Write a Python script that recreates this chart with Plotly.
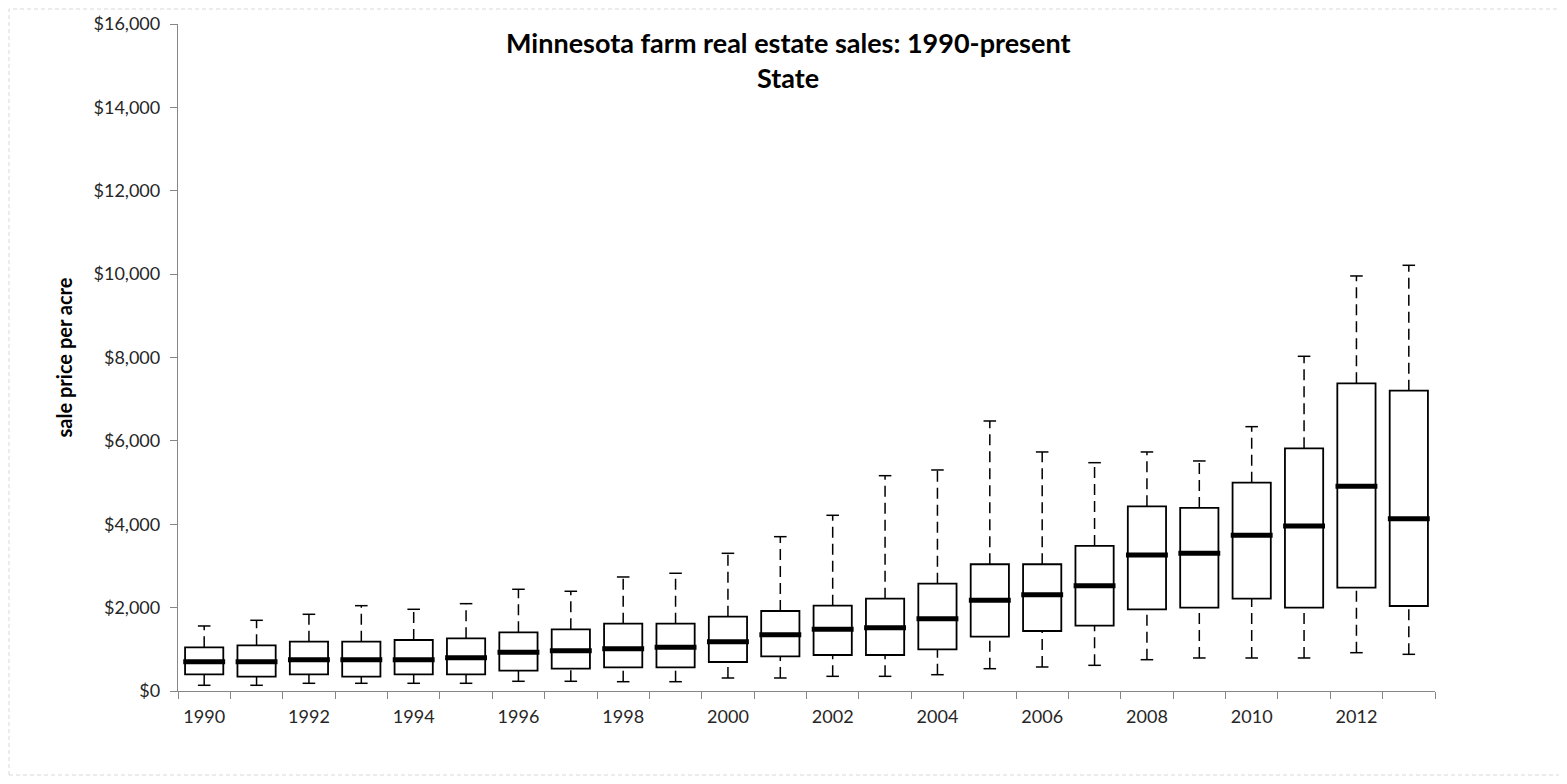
import plotly.graph_objects as go

years = list(range(1990, 2014))
lower = [137, 137, 185, 185, 185, 185, 233, 233, 223, 223, 312, 312,
         352, 352, 391, 535, 576, 616, 751, 792, 792, 792, 919, 880]
q1 = [400, 343, 400, 343, 400, 400, 487, 535, 569, 569, 696, 832,
      864, 864, 1000, 1303, 1439, 1567, 1960, 1999, 2215, 1999, 2478, 2039]
median = [703, 703, 751, 751, 751, 799, 928, 968, 1015, 1048, 1183, 1351,
          1480, 1519, 1735, 2176, 2310, 2526, 3263, 3303, 3735, 3958, 4910, 4134]
q3 = [1048, 1096, 1183, 1183, 1223, 1264, 1408, 1480, 1615, 1615, 1783, 1919,
      2047, 2215, 2574, 3040, 3040, 3479, 4431, 4391, 4998, 5822, 7381, 7205]
upper = [1560, 1696, 1840, 2047, 1960, 2095, 2440, 2392, 2735, 2824, 3303, 3702,
         4215, 5165, 5302, 6477, 5734, 5477, 5734, 5518, 6341, 8029, 9956, 10212]
tick_years = [1990, 1992, 1994, 1996, 1998, 2000, 2002, 2004, 2006, 2008, 2010, 2012]
y_ticks = [0, 2000, 4000, 6000, 8000, 10000, 12000, 14000, 16000]
y_tick_text = ["$0", "$2,000", "$4,000", "$6,000", "$8,000", "$10,000",
               "$12,000", "$14,000", "$16,000"]

FONT = "Lato"
BOX_W = 0.73
MED_HALF = 0.40
CAP_HALF = 0.12

# page body has an 8px margin; plot area in page px: x 178..1435, y 24..691
PAGE_OFF = 8
PL, PR, PT, PB = 178, 1435, 24, 691
FIG_W, FIG_H = 1567 - 2 * PAGE_OFF, 784 - 2 * PAGE_OFF


def px_x(p):
    return (p - PL) / (PR - PL)


def px_y(p):
    return (PB - p) / (PB - PT)


def segments(xc, ya, yb, half=0.0):
    xs, ys = [], []
    for x, a, b in zip(xc, ya, yb):
        if half:
            xs += [x - half, x + half, None]
            ys += [a, a, None]
        else:
            xs += [x, x, None]
            ys += [a, b, None]
    return xs, ys


fig = go.Figure()

# whiskers (dashed)
wx, wy = segments(years, q3, upper)
lx, ly = segments(years, lower, q1)
fig.add_trace(go.Scatter(x=wx + lx, y=wy + ly, mode="lines",
                         line=dict(color="black", width=1.5, dash="11px,6px"),
                         hoverinfo="skip", showlegend=False))
# caps
cx1, cy1 = segments(years, upper, upper, CAP_HALF)
cx2, cy2 = segments(years, lower, lower, CAP_HALF)
fig.add_trace(go.Scatter(x=cx1 + cx2, y=cy1 + cy2, mode="lines",
                         line=dict(color="black", width=1.5),
                         hoverinfo="skip", showlegend=False))
# boxes
fig.add_trace(go.Bar(x=years, y=[b - a for a, b in zip(q1, q3)], base=q1,
                     width=BOX_W,
                     marker=dict(color="white", line=dict(color="black", width=1.8)),
                     showlegend=False))
# medians
mx, my = segments(years, median, median, MED_HALF)
fig.add_trace(go.Scatter(x=mx, y=my, mode="lines",
                         line=dict(color="black", width=5),
                         hoverinfo="skip", showlegend=False))

fig.update_layout(
    width=FIG_W, height=FIG_H,
    margin=dict(l=PL - PAGE_OFF, r=FIG_W - (PR - PAGE_OFF), t=PT - PAGE_OFF,
                b=FIG_H - (PB - PAGE_OFF), autoexpand=False),
    paper_bgcolor="white", plot_bgcolor="white",
    font=dict(family=FONT, size=18, color="#262626"),
    barmode="overlay",
    xaxis=dict(range=[1989.5, 2013.5], tickmode="array", tickvals=tick_years,
               ticktext=[str(y) for y in tick_years], ticks="",
               ticklabelstandoff=9, automargin=False,
               showgrid=False, zeroline=False, showline=True,
               linecolor="#868686", linewidth=1.3,
               tickfont=dict(family=FONT, size=18, color="#262626"),
               minor=dict(ticks="outside", tick0=1989.5, dtick=1, ticklen=7,
                          tickcolor="#868686", tickwidth=1.3, showgrid=False)),
    yaxis=dict(range=[0, 16000], tickmode="array", tickvals=y_ticks,
               ticktext=y_tick_text, ticks="outside", ticklen=7,
               ticklabelstandoff=6, automargin=False,
               tickcolor="#868686", tickwidth=1.3,
               showgrid=False, zeroline=False, showline=True,
               linecolor="#868686", linewidth=1.3,
               tickfont=dict(family=FONT, size=18, color="#262626"),
               title=dict(text="<b>sale price per acre</b>",
                          font=dict(family=FONT, size=20, color="black"))),
    annotations=[
        dict(text="<b>Minnesota farm real estate sales: 1990-present</b>",
             xref="paper", yref="paper", x=px_x(788), y=px_y(42),
             showarrow=False, xanchor="center", yanchor="middle",
             font=dict(family=FONT, size=27, color="black")),
        dict(text="<b>State</b>",
             xref="paper", yref="paper", x=px_x(788), y=px_y(77),
             showarrow=False, xanchor="center", yanchor="middle",
             font=dict(family=FONT, size=27, color="black")),
    ],
    shapes=[dict(type="rect", xref="paper", yref="paper",
                 x0=px_x(9), x1=px_x(1562), y0=px_y(775), y1=px_y(9),
                 line=dict(color="#d9d9d9", width=1, dash="4px,3px"),
                 layer="below")],
)

fig.write_html("out.html")
